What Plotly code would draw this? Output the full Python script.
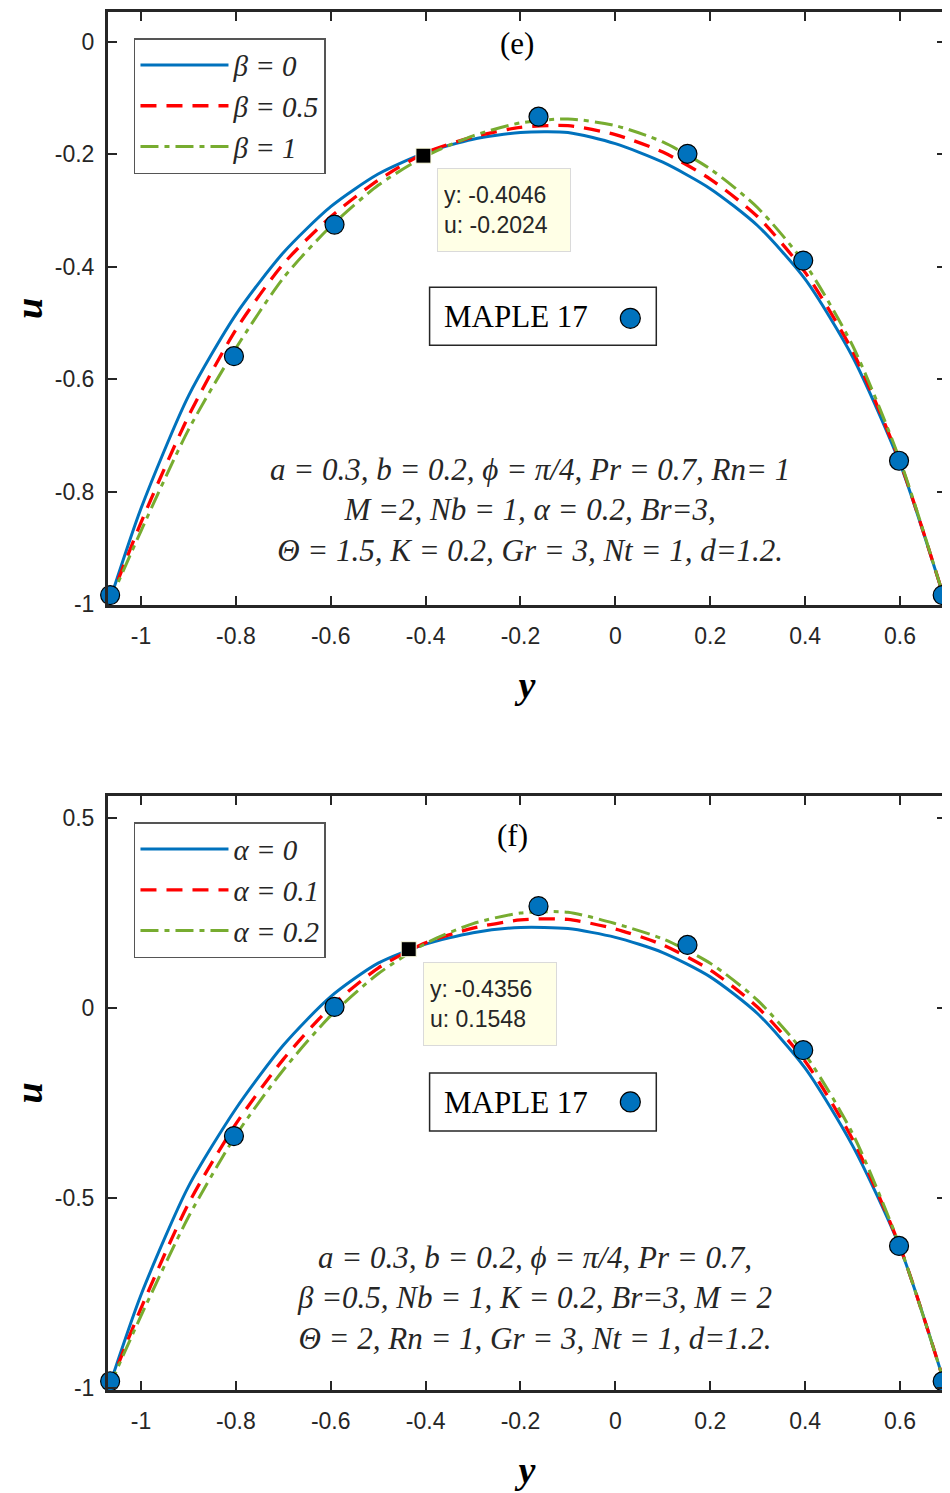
import plotly.graph_objects as go
from plotly.subplots import make_subplots

# ---------------- data ----------------
y_grid = [-1.068, -1.0, -0.9, -0.8, -0.7, -0.6, -0.5, -0.4, -0.3, -0.2,
          -0.1, 0.0, 0.1, 0.2, 0.3, 0.4, 0.5, 0.6, 0.697]

# panel (e): effect of beta
u_e_beta0 = [-1.0, -0.83, -0.63, -0.485, -0.375, -0.293, -0.235, -0.197, -0.173, -0.161,
             -0.161, -0.181, -0.214, -0.261, -0.327, -0.422, -0.56, -0.75, -1.0]
u_e_beta05 = [-1.0, -0.855, -0.666, -0.512, -0.395, -0.311, -0.246, -0.197, -0.169, -0.152,
              -0.149, -0.165, -0.196, -0.244, -0.311, -0.41, -0.55, -0.747, -1.0]
u_e_beta1 = [-1.0, -0.87, -0.69, -0.545, -0.42, -0.328, -0.255, -0.203, -0.167, -0.144,
             -0.137, -0.149, -0.178, -0.226, -0.295, -0.395, -0.54, -0.744, -1.0]

# panel (f): effect of alpha
u_f_alpha0 = [-1.0, -0.755, -0.47, -0.265, -0.098, 0.03, 0.118, 0.168, 0.198, 0.212,
              0.209, 0.186, 0.146, 0.082, -0.015, -0.158, -0.362, -0.63, -1.0]
u_f_alpha01 = [-1.0, -0.79, -0.515, -0.305, -0.135, 0.003, 0.105, 0.172, 0.21, 0.232,
               0.233, 0.208, 0.166, 0.1, 0.002, -0.14, -0.345, -0.628, -1.0]
u_f_alpha02 = [-1.0, -0.81, -0.55, -0.335, -0.163, -0.02, 0.09, 0.17, 0.222, 0.25,
               0.252, 0.222, 0.182, 0.118, 0.02, -0.122, -0.33, -0.627, -1.0]

# MAPLE 17 check points
maple_y = [-1.065, -0.804, -0.592, -0.162, 0.152, 0.396, 0.598, 0.69]
maple_e = [-0.984, -0.559, -0.325, -0.133, -0.199, -0.389, -0.745, -0.984]
maple_f = [-0.982, -0.337, 0.003, 0.268, 0.166, -0.111, -0.626, -0.982]

# data tips
tip_e_y, tip_e_u = [-0.4046], [-0.2024]
tip_f_y, tip_f_u = [-0.4356], [0.1548]

x_ticks = [-1, -0.8, -0.6, -0.4, -0.2, 0, 0.2, 0.4, 0.6]
x_ticktext = ["-1", "-0.8", "-0.6", "-0.4", "-0.2", "0", "0.2", "0.4", "0.6"]
ye_ticks = [0, -0.2, -0.4, -0.6, -0.8, -1]
ye_ticktext = ["0", "-0.2", "-0.4", "-0.6", "-0.8", "-1"]
yf_ticks = [0.5, 0, -0.5, -1]
yf_ticktext = ["0.5", "0", "-0.5", "-1"]

names_e = ["<i>β = 0</i>", "<i>β = 0.5</i>", "<i>β = 1</i>"]
names_f = ["<i>α = 0</i>", "<i>α = 0.1</i>", "<i>α = 0.2</i>"]

# ---------------- styling ----------------
BLUE = "#0072BD"
RED = "#FF0000"
GREEN = "#77AC30"
AX = "#262626"
SERIF = "Liberation Serif, Times New Roman, serif"
SANS = "Liberation Sans, Arial, sans-serif"

styles = [
    dict(color=BLUE, width=3, dash="solid"),
    dict(color=RED, width=3.3, dash="16px,10px"),
    dict(color=GREEN, width=3, dash="18px,6px,5px,6px"),
]

fig = make_subplots(rows=2, cols=1)

def add_panel(row, curves, names, maple_u, tip_y, tip_u, legend):
    for u, nm, st in zip(curves, names, styles):
        fig.add_trace(go.Scatter(x=y_grid, y=u, mode="lines", name=nm,
                                 line=dict(color=st["color"], width=st["width"],
                                           dash=st["dash"], shape="spline", smoothing=0.7),
                                 legend=legend, showlegend=True), row=row, col=1)
    fig.add_trace(go.Scatter(x=maple_y, y=maple_u, mode="markers", name="MAPLE 17",
                             marker=dict(color=BLUE, size=19, line=dict(color="black", width=1.2)),
                             cliponaxis=False, showlegend=False), row=row, col=1)
    fig.add_trace(go.Scatter(x=tip_y, y=tip_u, mode="markers",
                             marker=dict(symbol="square", color="black", size=15,
                                         line=dict(color="#FFFFE0", width=1)),
                             cliponaxis=False, showlegend=False), row=row, col=1)

add_panel(1, [u_e_beta0, u_e_beta05, u_e_beta1], names_e, maple_e, tip_e_y, tip_e_u, "legend")
add_panel(2, [u_f_alpha0, u_f_alpha01, u_f_alpha02], names_f, maple_f, tip_f_y, tip_f_u, "legend2")

axis_common = dict(showline=True, linecolor=AX, linewidth=3, mirror="allticks",
                   ticks="inside", ticklen=9, tickwidth=2, tickcolor=AX,
                   showgrid=False, zeroline=False, automargin=False,
                   tickfont=dict(family=SANS, size=23, color=AX))

xr = [-1.0695, 0.697]
fig.update_xaxes(**axis_common, range=xr, tickvals=x_ticks, ticktext=x_ticktext,
                 ticklabelstandoff=8,
                 title=dict(text="<b><i>y</i></b>", font=dict(family=SERIF, size=38, color="black"),
                            standoff=24))
fig.update_yaxes(**axis_common, ticklabelstandoff=6,
                 title=dict(text="<b><i>u</i></b>", font=dict(family=SERIF, size=38, color="black"),
                            standoff=30))
fig.update_yaxes(range=[-1.0015, 0.0532], tickvals=ye_ticks, ticktext=ye_ticktext, row=1, col=1)
fig.update_yaxes(range=[-1.005, 0.558], tickvals=yf_ticks, ticktext=yf_ticktext, row=2, col=1)

fig.update_layout(
    xaxis=dict(domain=[0, 1]), xaxis2=dict(domain=[0, 1]),
    yaxis=dict(domain=[0.5697, 1.0]), yaxis2=dict(domain=[0.0, 0.4311]),
)

legend_common = dict(xanchor="left", yanchor="top", bgcolor="white",
                     bordercolor="#555555", borderwidth=1.5,
                     font=dict(family=SERIF, size=29, color=AX),
                     itemwidth=88, tracegroupgap=0, xref="paper", yref="paper")
fig.update_layout(
    legend=dict(**legend_common, x=0.031, y=0.981),
    legend2=dict(**legend_common, x=0.031, y=0.412),
)

annotations = []
shapes = []

def panel_decor(xref, yref, label_pos, label, tip_box, tip_text, maple_box, maple_dot,
                params_pos, params_text):
    annotations.append(dict(xref=xref, yref=yref, x=label_pos[0], y=label_pos[1], text=label,
                            showarrow=False, font=dict(family=SERIF, size=31, color="black"),
                            xanchor="center", yanchor="middle"))
    annotations.append(dict(xref=xref, yref=yref, x=tip_box[0], y=tip_box[1], text=tip_text,
                            showarrow=False, xanchor="left", yanchor="top", align="left",
                            font=dict(family=SANS, size=23, color=AX),
                            bgcolor="#FFFFE6", bordercolor="#DADADA", borderwidth=1,
                            borderpad=6, width=120, height=70))
    shapes.append(dict(type="rect", xref=xref, yref=yref, x0=maple_box[0], x1=maple_box[1],
                       y0=maple_box[2], y1=maple_box[3], line=dict(color=AX, width=1.5),
                       fillcolor="white", layer="above"))
    annotations.append(dict(xref=xref, yref=yref, x=maple_box[0] + 0.027,
                            y=(maple_box[2] + maple_box[3]) / 2, text="MAPLE 17",
                            showarrow=False, xanchor="left", yanchor="middle",
                            font=dict(family=SERIF, size=31, color="black")))
    shapes.append(dict(type="circle", xref=xref, yref=yref, xsizemode="pixel", ysizemode="pixel",
                       xanchor=maple_dot[0], yanchor=maple_dot[1], x0=-10, x1=10, y0=-10, y1=10,
                       fillcolor=BLUE, line=dict(color="black", width=1.2), layer="above"))
    annotations.append(dict(xref=xref, yref=yref, x=params_pos[0], y=params_pos[1],
                            text=params_text, showarrow=False, xanchor="center", yanchor="middle",
                            align="center",
                            font=dict(family=SERIF, size=31, color=AX, style="italic")))

panel_decor("x", "y", (-0.208, -0.0035), "(e)", (-0.3768, -0.2236),
            "y: -0.4046<br>u: -0.2024",
            (-0.3916, 0.0863, -0.5395, -0.4366), (0.0316, -0.4916),
            (-0.179, -0.832),
            "a = 0.3, b = 0.2, ϕ = π/4, Pr = 0.7, Rn= 1<br>"
            "M =2, Nb = 1, α = 0.2, Br=3,<br>"
            "Θ = 1.5, K = 0.2, Gr = 3, Nt = 1, d=1.2.")
panel_decor("x2", "y2", (-0.217, 0.453), "(f)", (-0.4063, 0.121),
            "y: -0.4356<br>u: 0.1548",
            (-0.3916, 0.0863, -0.3237, -0.171), (0.0316, -0.247),
            (-0.17, -0.763),
            "a = 0.3, b = 0.2, ϕ = π/4, Pr = 0.7,<br>"
            "β =0.5, Nb = 1, K = 0.2, Br=3, M = 2<br>"
            "Θ = 2, Rn = 1, Gr = 3, Nt = 1, d=1.2.")

# the page body adds an 8 px margin, so the figure is sized/offset to land
# the axes at the reference pixel positions
fig.update_layout(
    width=942, height=1485,
    margin=dict(l=100, r=4, t=4, b=103),
    paper_bgcolor="white", plot_bgcolor="white",
    annotations=annotations, shapes=shapes,
)

fig.write_html("out.html")
